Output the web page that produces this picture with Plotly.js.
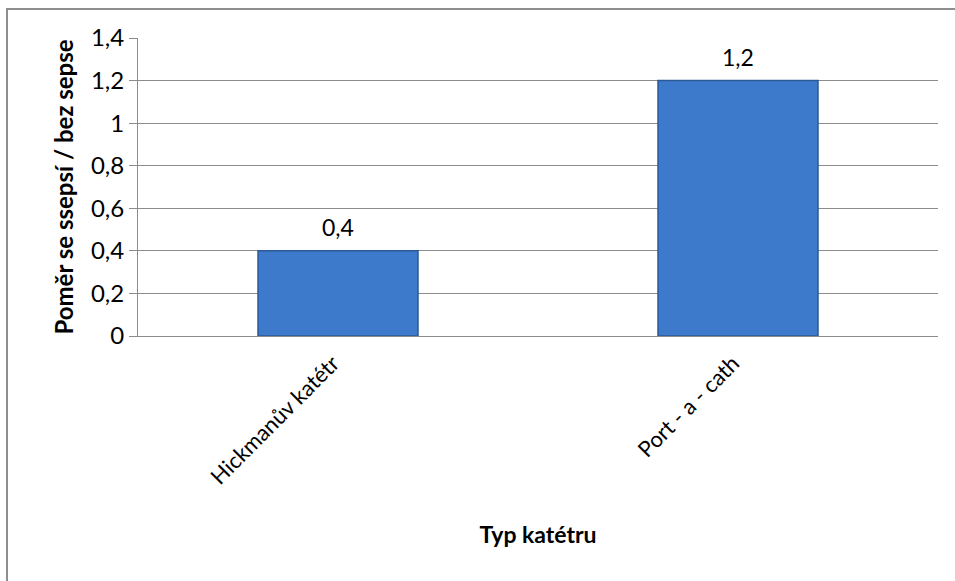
<!DOCTYPE html>
<html>
<head>
<meta charset="utf-8">
<script src="https://cdn.plot.ly/plotly-3.0.1.min.js"></script>
<style>
  html, body { margin: 0; padding: 0; background: #ffffff; overflow: hidden; }
  #wrap { position: relative; width: 955px; height: 581px; }
  #frame { position: absolute; left: 6px; top: 8px; width: 980px; height: 600px;
           border: 2px solid #8e8e8e; box-sizing: border-box; pointer-events: none; }
  #chart { position: absolute; left: 0; top: 0; width: 955px; height: 581px; }
</style>
</head>
<body>
<div id="wrap">
  <div id="chart"></div>
  <div id="frame"></div>
</div>
<script>
// Catheter types and the septic / non-septic ratio for each
const categories = ['Hickmanův katétr', 'Port - a - cath'];
const ratios = [0.4, 1.2];
const valueLabels = ['0,4', '1,2'];
const yTickValues = [0, 0.2, 0.4, 0.6, 0.8, 1, 1.2, 1.4];
const yTickLabels = ['0', '0,2', '0,4', '0,6', '0,8', '1', '1,2', '1,4'];

const fontFamily = 'Lato, "Open Sans", "Noto Sans", sans-serif';

const trace = {
  type: 'bar',
  x: categories,
  y: ratios,
  width: 0.4,
  marker: {
    color: '#3e7acb',
    line: { color: '#2c5a97', width: 1.5 }
  },
  hoverinfo: 'skip'
};

// value labels sit a little above each bar top
const valueAnnotations = categories.map((c, i) => ({
  x: c,
  y: ratios[i],
  xref: 'x',
  yref: 'y',
  text: valueLabels[i],
  showarrow: false,
  yanchor: 'bottom',
  yshift: 8,
  font: { family: fontFamily, size: 23, color: '#000000' }
}));

const layout = {
  width: 955,
  height: 581,
  margin: { l: 138, r: 17, t: 38, b: 245 },
  paper_bgcolor: '#ffffff',
  plot_bgcolor: '#ffffff',
  showlegend: false,
  font: { family: fontFamily, color: '#000000' },
  annotations: valueAnnotations,
  xaxis: {
    type: 'category',
    tickangle: -45,
    tickfont: { family: fontFamily, size: 22, color: '#000000' },
    ticklabelstandoff: 5,
    ticklabelshift: -5,
    showgrid: false,
    showline: true,
    linecolor: '#8c8c8c',
    linewidth: 1,
    ticks: '',
    title: {
      text: '<b>Typ katétru</b>',
      font: { family: fontFamily, size: 23, color: '#000000' },
      standoff: 38
    },
    automargin: false
  },
  yaxis: {
    range: [0, 1.4],
    tickvals: yTickValues,
    ticktext: yTickLabels,
    tickfont: { family: fontFamily, size: 24, color: '#000000' },
    showgrid: true,
    gridcolor: '#8c8c8c',
    gridwidth: 1,
    zeroline: false,
    showline: true,
    linecolor: '#8c8c8c',
    linewidth: 1,
    ticks: 'outside',
    ticklen: 8,
    tickcolor: '#8c8c8c',
    title: {
      text: '<b>Poměr se ssepsí / bez sepse</b>',
      font: { family: fontFamily, size: 24, color: '#000000' },
      standoff: 10
    },
    automargin: false
  },
  bargap: 0.6
};

Plotly.newPlot('chart', [trace], layout, { staticPlot: true, displayModeBar: false });
</script>
</body>
</html>
